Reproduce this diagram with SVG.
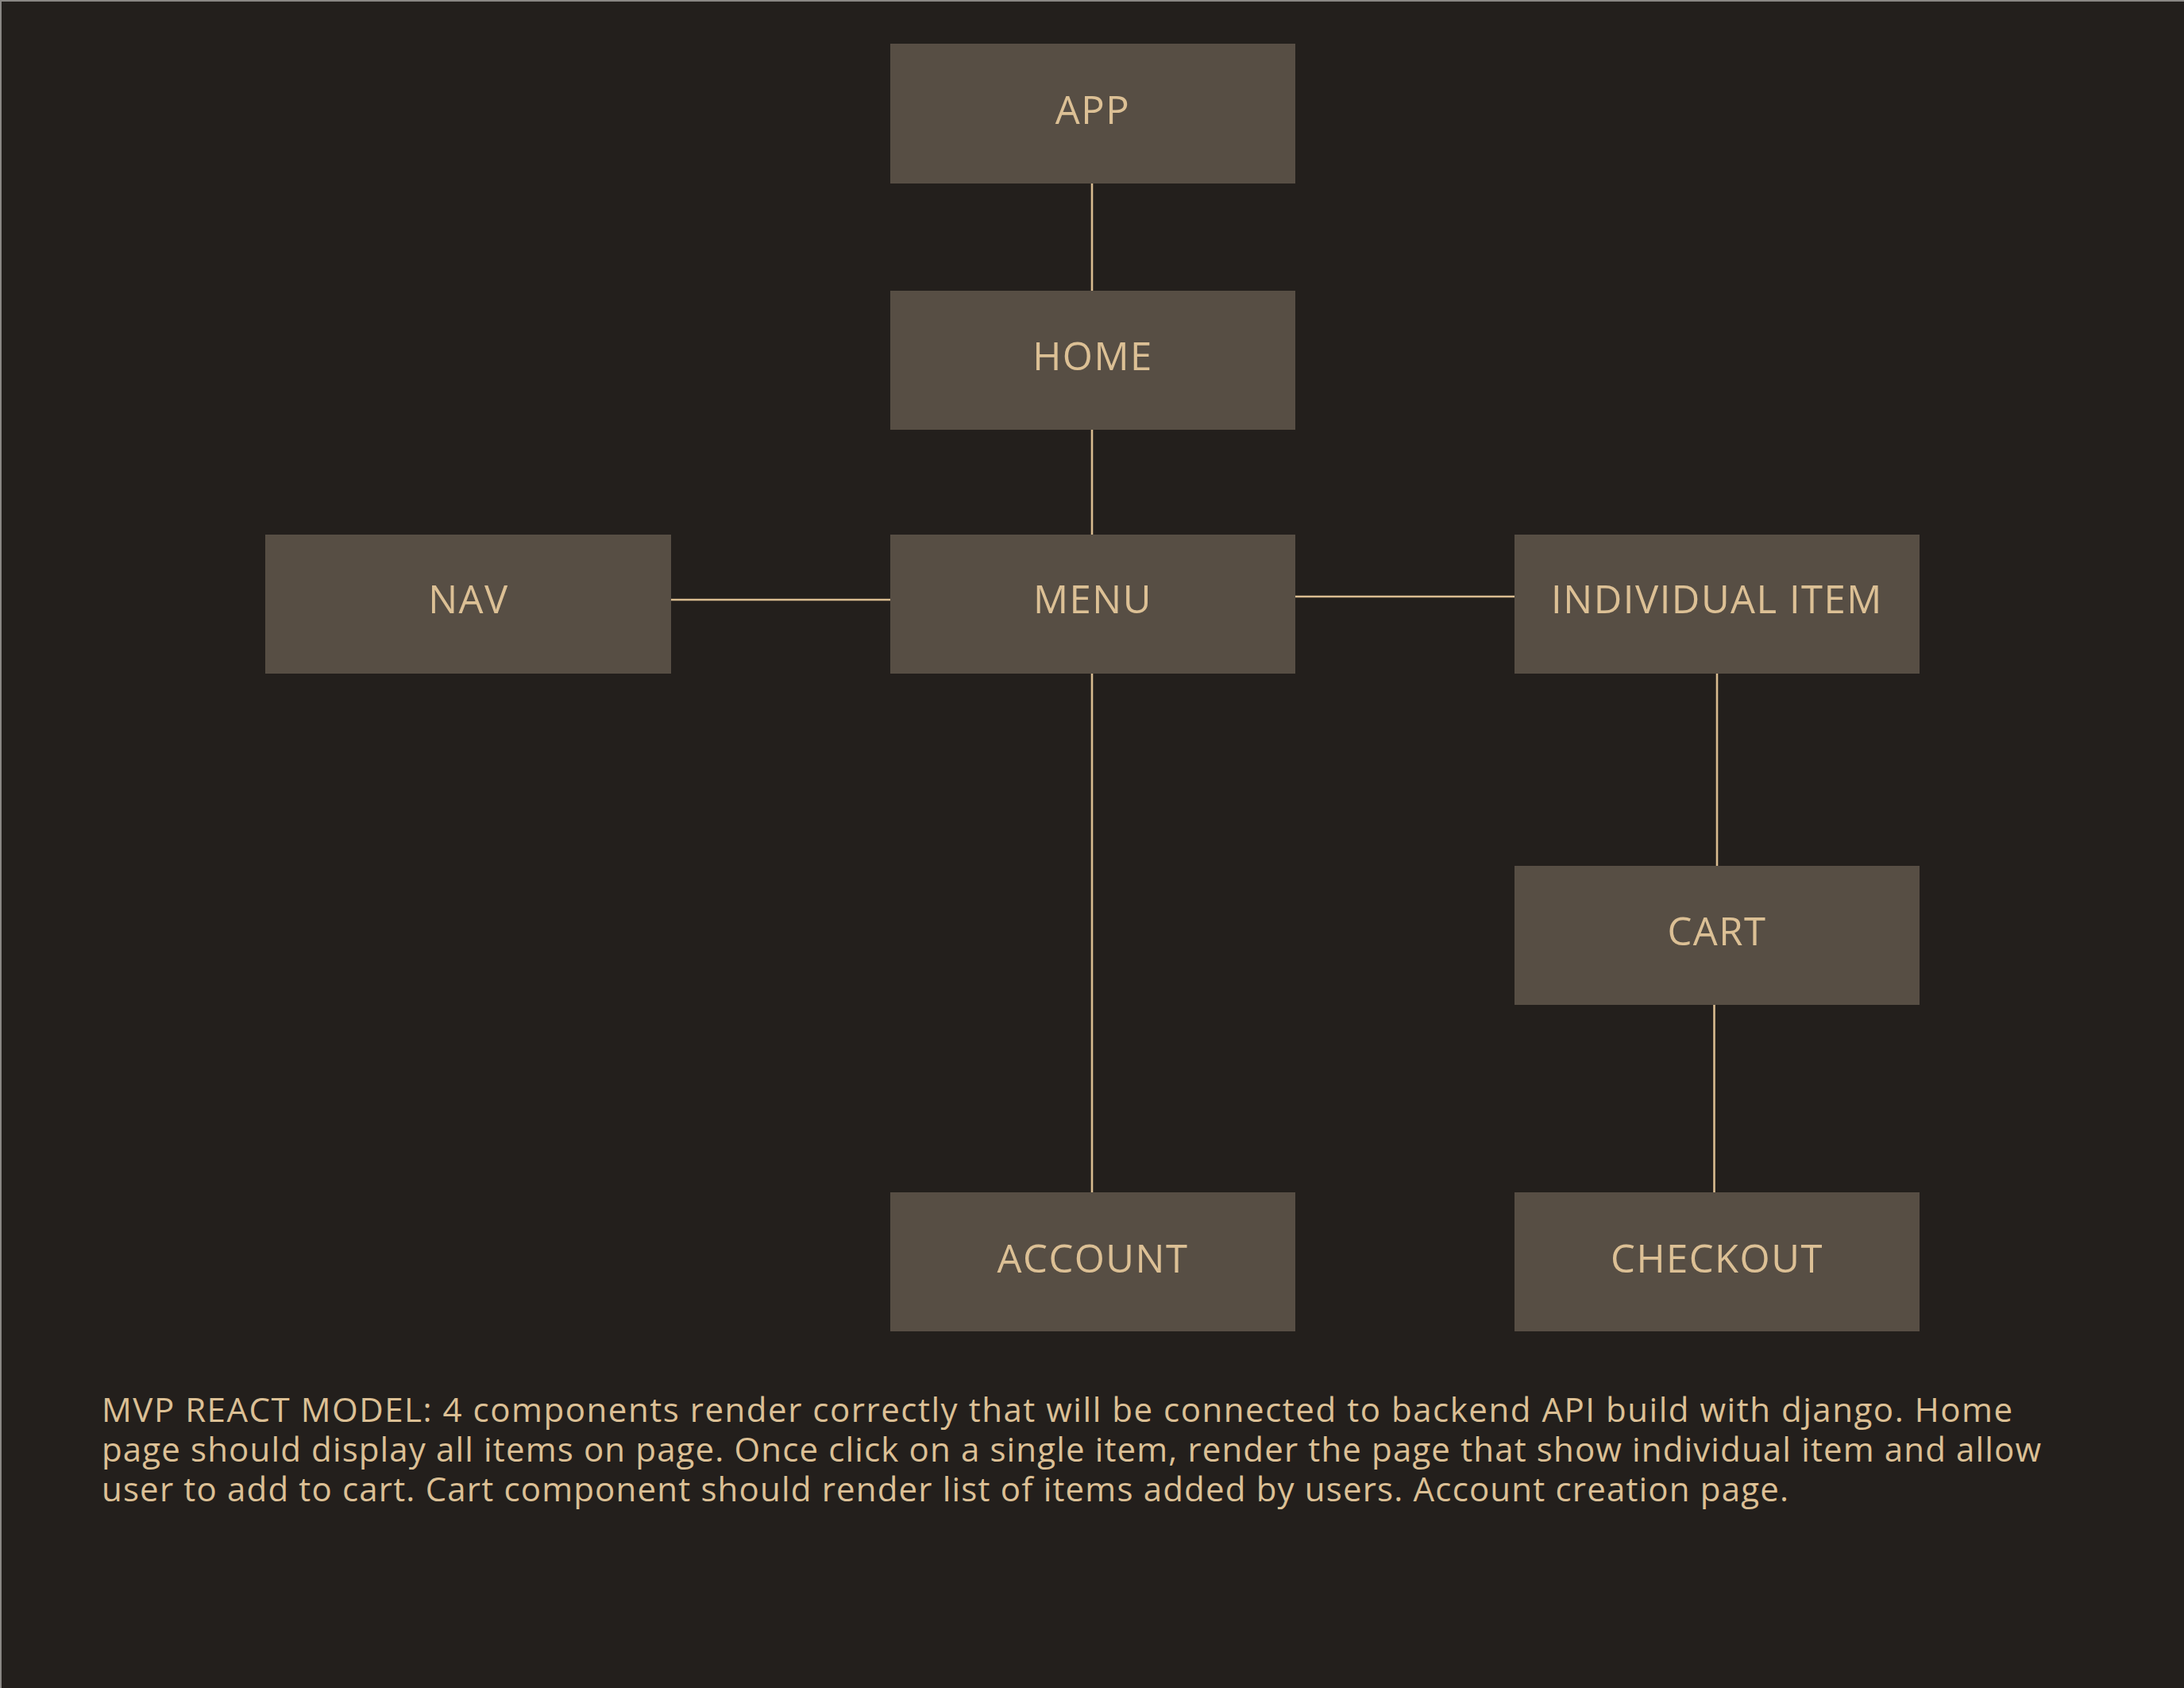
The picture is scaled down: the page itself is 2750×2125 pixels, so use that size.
<svg xmlns="http://www.w3.org/2000/svg" width="2750" height="2125" viewBox="0 0 2750 2125">
<style>
.bg{fill:#231f1c}
.box{fill:#574e44}
.lbl{font-family:"Open Sans","Liberation Sans",sans-serif;font-size:49px;fill:#dcc095;text-anchor:middle;letter-spacing:1.5px}
.con{stroke:#d9bc90;stroke-width:2.6;fill:none}
.para{font-family:"Open Sans","Liberation Sans",sans-serif;font-size:42px;fill:#dcc095}
</style>
<rect class="bg" x="0" y="0" width="2750" height="2125"/>
<path d="M1,2125 V1 H2750" stroke="#8a8784" stroke-width="2" fill="none"/>
<g id="connectors">
<line class="con" x1="1375" y1="231" x2="1375" y2="366"/>
<line class="con" x1="1375" y1="541" x2="1375" y2="673"/>
<line class="con" x1="845" y1="755" x2="1121" y2="755"/>
<line class="con" x1="1631" y1="751" x2="1907" y2="751"/>
<line class="con" x1="1375" y1="848" x2="1375" y2="1501"/>
<line class="con" x1="2162" y1="848" x2="2162" y2="1090"/>
<line class="con" x1="2158.5" y1="1265" x2="2158.5" y2="1501"/>
</g>
<g id="app"><rect class="box" x="1121" y="55" width="510" height="176"/><text class="lbl" x="1376" y="156">APP</text></g>
<g id="home"><rect class="box" x="1121" y="366" width="510" height="175"/><text class="lbl" x="1376" y="466">HOME</text></g>
<g id="nav"><rect class="box" x="334" y="673" width="511" height="175"/><text class="lbl" x="590" y="772">NAV</text></g>
<g id="menu"><rect class="box" x="1121" y="673" width="510" height="175"/><text class="lbl" x="1376" y="772">MENU</text></g>
<g id="individual-item"><rect class="box" x="1907" y="673" width="510" height="175"/><text class="lbl" x="2162" y="772">INDIVIDUAL ITEM</text></g>
<g id="cart"><rect class="box" x="1907" y="1090" width="510" height="175"/><text class="lbl" x="2162" y="1190">CART</text></g>
<g id="account"><rect class="box" x="1121" y="1501" width="510" height="175"/><text class="lbl" x="1376" y="1602">ACCOUNT</text></g>
<g id="checkout"><rect class="box" x="1907" y="1501" width="510" height="175"/><text class="lbl" x="2162" y="1602">CHECKOUT</text></g>
<g id="description">
<text class="para" x="128" y="1790" textLength="2406" lengthAdjust="spacing">MVP REACT MODEL: 4 components render correctly that will be connected to backend API build with django. Home</text>
<text class="para" x="128" y="1840" textLength="2442" lengthAdjust="spacing">page should display all items on page. Once click on a single item, render the page that show individual item and allow</text>
<text class="para" x="128" y="1890" textLength="2124" lengthAdjust="spacing">user to add to cart. Cart component should render list of items added by users. Account creation page.</text>
</g>
</svg>
